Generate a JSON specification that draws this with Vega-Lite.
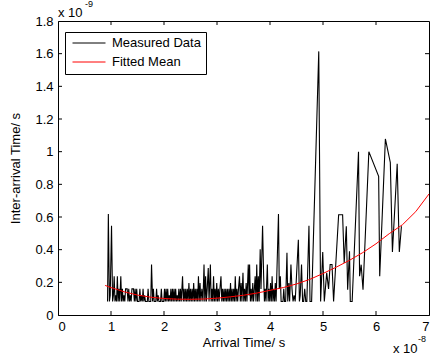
{
  "$schema": "https://vega.github.io/schema/vega-lite/v6.json",
  "width": 371,
  "height": 294,
  "autosize": "none",
  "padding": {"left": 58, "top": 21, "right": 5, "bottom": 45},
  "background": "white",
  "config": {
    "view": {"stroke": "black", "strokeWidth": 1},
    "font": "Liberation Sans",
    "axis": {
      "domainColor": "black", "tickColor": "black", "labelColor": "black", "titleColor": "black",
      "grid": false, "ticks": false, "labelFontSize": 13, "titleFontSize": 13, "titleFontWeight": "normal",
      "labelFont": "Liberation Sans", "titleFont": "Liberation Sans", "domainWidth": 1
    },
    "legend": {
      "orient": "none", "legendX": 7, "legendY": 11, "title": null,
      "strokeColor": "black", "fillColor": "white", "padding": 4.5,
      "symbolType": "stroke", "symbolSize": 1089, "symbolStrokeWidth": 1, "symbolOffset": 2.5,
      "clipHeight": 13,
      "labelFontSize": 13, "labelFont": "Liberation Sans", "labelColor": "black", "labelOffset": 6, "rowPadding": 5
    }
  },
  "datasets": {
    "xticks": [{"p":1},{"p":2},{"p":3},{"p":4},{"p":5},{"p":6}],
    "yticks": [{"p":0.2},{"p":0.4},{"p":0.6},{"p":0.8},{"p":1.0},{"p":1.2},{"p":1.4},{"p":1.6}],
    "measured": [
      {"t":0.935,"v":0.083},{"t":0.95,"v":0.618},{"t":0.97,"v":0.083},{"t":0.985,"v":0.12},{"t":1.01,"v":0.546},
      {"t":1.03,"v":0.083},{"t":1.045,"v":0.12},{"t":1.06,"v":0.237},{"t":1.075,"v":0.083},{"t":1.09,"v":0.12},
      {"t":1.105,"v":0.083},{"t":1.12,"v":0.237},{"t":1.135,"v":0.083},{"t":1.15,"v":0.16},{"t":1.165,"v":0.083},
      {"t":1.185,"v":0.237},{"t":1.2,"v":0.083},{"t":1.215,"v":0.16},{"t":1.23,"v":0.083},{"t":1.245,"v":0.12},
      {"t":1.26,"v":0.083},{"t":1.275,"v":0.16},{"t":1.305,"v":0.16},{"t":1.32,"v":0.083},{"t":1.335,"v":0.16},
      {"t":1.35,"v":0.083},{"t":1.365,"v":0.12},{"t":1.38,"v":0.083},{"t":1.395,"v":0.16},{"t":1.425,"v":0.16},
      {"t":1.44,"v":0.083},{"t":1.455,"v":0.16},{"t":1.47,"v":0.083},{"t":1.485,"v":0.16},{"t":1.5,"v":0.083},
      {"t":1.53,"v":0.083},{"t":1.545,"v":0.16},{"t":1.56,"v":0.083},{"t":1.575,"v":0.12},{"t":1.59,"v":0.083},
      {"t":1.605,"v":0.16},{"t":1.62,"v":0.083},{"t":1.635,"v":0.12},{"t":1.65,"v":0.083},{"t":1.685,"v":0.083},
      {"t":1.7,"v":0.16},{"t":1.715,"v":0.083},{"t":1.75,"v":0.083},{"t":1.765,"v":0.309},{"t":1.785,"v":0.083},
      {"t":1.8,"v":0.16},{"t":1.815,"v":0.083},{"t":1.845,"v":0.083},{"t":1.86,"v":0.16},{"t":1.875,"v":0.083},
      {"t":1.89,"v":0.12},{"t":1.905,"v":0.083},{"t":1.935,"v":0.083},{"t":1.95,"v":0.16},{"t":1.965,"v":0.083},
      {"t":1.995,"v":0.083},{"t":2.01,"v":0.16},{"t":2.025,"v":0.083},{"t":2.04,"v":0.16},{"t":2.055,"v":0.083},
      {"t":2.07,"v":0.16},{"t":2.085,"v":0.083},{"t":2.1,"v":0.12},{"t":2.115,"v":0.083},{"t":2.13,"v":0.16},
      {"t":2.145,"v":0.083},{"t":2.16,"v":0.16},{"t":2.175,"v":0.083},{"t":2.19,"v":0.16},{"t":2.205,"v":0.083},
      {"t":2.22,"v":0.16},{"t":2.235,"v":0.083},{"t":2.25,"v":0.12},{"t":2.265,"v":0.083},{"t":2.28,"v":0.16},
      {"t":2.295,"v":0.083},{"t":2.31,"v":0.16},{"t":2.325,"v":0.083},{"t":2.35,"v":0.237},{"t":2.365,"v":0.083},
      {"t":2.38,"v":0.16},{"t":2.395,"v":0.083},{"t":2.41,"v":0.16},{"t":2.425,"v":0.083},{"t":2.44,"v":0.16},
      {"t":2.455,"v":0.083},{"t":2.47,"v":0.196},{"t":2.485,"v":0.083},{"t":2.5,"v":0.16},{"t":2.515,"v":0.083},
      {"t":2.53,"v":0.16},{"t":2.545,"v":0.083},{"t":2.56,"v":0.196},{"t":2.575,"v":0.083},{"t":2.59,"v":0.16},
      {"t":2.605,"v":0.083},{"t":2.62,"v":0.16},{"t":2.635,"v":0.083},{"t":2.65,"v":0.237},{"t":2.665,"v":0.083},
      {"t":2.68,"v":0.196},{"t":2.695,"v":0.083},{"t":2.715,"v":0.16},{"t":2.735,"v":0.083},{"t":2.755,"v":0.309},
      {"t":2.77,"v":0.083},{"t":2.785,"v":0.237},{"t":2.8,"v":0.083},{"t":2.815,"v":0.16},{"t":2.835,"v":0.288},
      {"t":2.85,"v":0.083},{"t":2.875,"v":0.309},{"t":2.89,"v":0.083},{"t":2.905,"v":0.16},{"t":2.92,"v":0.083},
      {"t":2.935,"v":0.237},{"t":2.95,"v":0.083},{"t":2.965,"v":0.16},{"t":2.98,"v":0.083},{"t":2.995,"v":0.196},
      {"t":3.01,"v":0.083},{"t":3.025,"v":0.16},{"t":3.04,"v":0.083},{"t":3.055,"v":0.16},{"t":3.075,"v":0.237},
      {"t":3.09,"v":0.083},{"t":3.105,"v":0.16},{"t":3.12,"v":0.083},{"t":3.135,"v":0.16},{"t":3.15,"v":0.083},
      {"t":3.165,"v":0.16},{"t":3.18,"v":0.083},{"t":3.195,"v":0.16},{"t":3.21,"v":0.083},{"t":3.225,"v":0.16},
      {"t":3.24,"v":0.083},{"t":3.255,"v":0.196},{"t":3.27,"v":0.083},{"t":3.285,"v":0.16},{"t":3.3,"v":0.083},
      {"t":3.315,"v":0.16},{"t":3.33,"v":0.083},{"t":3.345,"v":0.237},{"t":3.36,"v":0.083},{"t":3.375,"v":0.16},
      {"t":3.39,"v":0.083},{"t":3.405,"v":0.16},{"t":3.425,"v":0.237},{"t":3.44,"v":0.083},{"t":3.455,"v":0.196},
      {"t":3.47,"v":0.083},{"t":3.49,"v":0.258},{"t":3.505,"v":0.083},{"t":3.52,"v":0.16},{"t":3.535,"v":0.083},
      {"t":3.55,"v":0.196},{"t":3.565,"v":0.083},{"t":3.59,"v":0.309},{"t":3.605,"v":0.12},{"t":3.615,"v":0.309},
      {"t":3.63,"v":0.083},{"t":3.645,"v":0.16},{"t":3.66,"v":0.083},{"t":3.675,"v":0.196},{"t":3.69,"v":0.083},
      {"t":3.72,"v":0.237},{"t":3.735,"v":0.083},{"t":3.75,"v":0.309},{"t":3.765,"v":0.083},{"t":3.78,"v":0.237},
      {"t":3.795,"v":0.083},{"t":3.815,"v":0.402},{"t":3.83,"v":0.16},{"t":3.86,"v":0.546},{"t":3.88,"v":0.237},
      {"t":3.895,"v":0.083},{"t":3.91,"v":0.16},{"t":3.925,"v":0.083},{"t":3.95,"v":0.309},{"t":3.965,"v":0.083},
      {"t":3.98,"v":0.16},{"t":3.995,"v":0.083},{"t":4.01,"v":0.196},{"t":4.025,"v":0.083},{"t":4.04,"v":0.237},
      {"t":4.055,"v":0.083},{"t":4.07,"v":0.16},{"t":4.085,"v":0.083},{"t":4.1,"v":0.196},{"t":4.115,"v":0.083},
      {"t":4.16,"v":0.618},{"t":4.175,"v":0.16},{"t":4.195,"v":0.237},{"t":4.21,"v":0.083},{"t":4.245,"v":0.083},
      {"t":4.26,"v":0.16},{"t":4.275,"v":0.083},{"t":4.295,"v":0.083},{"t":4.32,"v":0.381},{"t":4.335,"v":0.083},
      {"t":4.355,"v":0.196},{"t":4.37,"v":0.083},{"t":4.395,"v":0.309},{"t":4.415,"v":0.16},{"t":4.435,"v":0.083},
      {"t":4.455,"v":0.12},{"t":4.475,"v":0.083},{"t":4.535,"v":0.461},{"t":4.555,"v":0.083},{"t":4.57,"v":0.12},
      {"t":4.595,"v":0.309},{"t":4.615,"v":0.083},{"t":4.635,"v":0.083},{"t":4.655,"v":0.16},{"t":4.675,"v":0.083},
      {"t":4.695,"v":0.083},{"t":4.735,"v":0.546},{"t":4.755,"v":0.083},{"t":4.785,"v":0.083},{"t":4.92,"v":1.614},
      {"t":4.955,"v":0.083},{"t":4.995,"v":0.385},{"t":5.025,"v":0.083},{"t":5.07,"v":0.258},{"t":5.105,"v":0.16},
      {"t":5.135,"v":0.309},{"t":5.17,"v":0.309},{"t":5.2,"v":0.083},{"t":5.295,"v":0.614},{"t":5.37,"v":0.614},
      {"t":5.4,"v":0.318},{"t":5.44,"v":0.543},{"t":5.465,"v":0.155},{"t":5.5,"v":0.39},{"t":5.515,"v":0.083},
      {"t":5.55,"v":0.083},{"t":5.67,"v":1.0},{"t":5.69,"v":0.237},{"t":5.72,"v":0.308},{"t":5.755,"v":0.155},
      {"t":5.865,"v":1.0},{"t":6.05,"v":0.849},{"t":6.07,"v":0.237},{"t":6.177,"v":1.078},{"t":6.27,"v":0.934},
      {"t":6.31,"v":0.386},{"t":6.4,"v":0.926},{"t":6.44,"v":0.386},{"t":6.48,"v":0.543}
    ],
    "fitted": [
      {"t":0.89,"v":0.181},{"t":1.0,"v":0.168},{"t":1.25,"v":0.142},{"t":1.5,"v":0.122},{"t":1.75,"v":0.109},
      {"t":2.0,"v":0.101},{"t":2.25,"v":0.097},{"t":2.5,"v":0.096},{"t":2.75,"v":0.098},{"t":3.0,"v":0.103},
      {"t":3.25,"v":0.111},{"t":3.5,"v":0.121},{"t":3.75,"v":0.134},{"t":4.0,"v":0.151},{"t":4.25,"v":0.168},
      {"t":4.5,"v":0.19},{"t":4.75,"v":0.218},{"t":5.0,"v":0.254},{"t":5.25,"v":0.293},{"t":5.5,"v":0.335},
      {"t":5.75,"v":0.382},{"t":6.0,"v":0.436},{"t":6.25,"v":0.498},{"t":6.5,"v":0.553},{"t":6.75,"v":0.633},
      {"t":7.0,"v":0.741}
    ]
  },
  "layer": [
    {
      "data": {"name": "measured"},
      "mark": {"type": "line", "strokeWidth": 1.1},
      "encoding": {
        "x": {"field": "t", "type": "quantitative",
          "scale": {"domain": [0, 7], "nice": false, "zero": false},
          "axis": {"title": "Arrival Time/ s", "values": [0,1,2,3,4,5,6,7], "labelPadding": 5, "titlePadding": 3}},
        "y": {"field": "v", "type": "quantitative",
          "scale": {"domain": [0, 1.8], "nice": false},
          "axis": {"title": "Inter-arrival Time/ s", "values": [0,0.2,0.4,0.6,0.8,1,1.2,1.4,1.6,1.8], "format": "~g", "labelPadding": 5, "titlePadding": 12}},
        "color": {"datum": "Measured Data", "type": "nominal",
          "scale": {"domain": ["Measured Data", "Fitted Mean"], "range": ["#000000", "#ff0000"]}}
      }
    },
    {
      "data": {"name": "fitted"},
      "mark": {"type": "line", "strokeWidth": 1},
      "encoding": {
        "x": {"field": "t", "type": "quantitative", "axis": null},
        "y": {"field": "v", "type": "quantitative", "axis": null},
        "color": {"datum": "Fitted Mean", "type": "nominal"}
      }
    },
    {
      "data": {"name": "xticks"},
      "mark": {"type": "rule", "color": "black", "strokeWidth": 1, "y2Offset": -4},
      "encoding": {"x": {"field": "p", "type": "quantitative", "axis": null}, "y": {"datum": 0, "type": "quantitative", "axis": null}, "y2": {"datum": 0}}
    },
    {
      "data": {"name": "xticks"},
      "mark": {"type": "rule", "color": "black", "strokeWidth": 1, "y2Offset": 4},
      "encoding": {"x": {"field": "p", "type": "quantitative", "axis": null}, "y": {"datum": 1.8, "type": "quantitative", "axis": null}, "y2": {"datum": 1.8}}
    },
    {
      "data": {"name": "yticks"},
      "mark": {"type": "rule", "color": "black", "strokeWidth": 1, "x2Offset": 4},
      "encoding": {"y": {"field": "p", "type": "quantitative", "axis": null}, "x": {"datum": 0, "type": "quantitative", "axis": null}, "x2": {"datum": 0}}
    },
    {
      "data": {"name": "yticks"},
      "mark": {"type": "rule", "color": "black", "strokeWidth": 1, "x2Offset": -4},
      "encoding": {"y": {"field": "p", "type": "quantitative", "axis": null}, "x": {"datum": 7, "type": "quantitative", "axis": null}, "x2": {"datum": 7}}
    },
    {
      "data": {"values": [{}]},
      "mark": {"type": "text", "align": "left", "baseline": "middle", "fontSize": 13, "font": "Liberation Sans", "color": "black", "dx": 0, "dy": -8},
      "encoding": {"x": {"datum": 0, "type": "quantitative", "axis": null}, "y": {"datum": 1.8, "type": "quantitative", "axis": null}, "text": {"value": "x 10"}}
    },
    {
      "data": {"values": [{}]},
      "mark": {"type": "text", "align": "left", "baseline": "middle", "fontSize": 9, "font": "Liberation Sans", "color": "black", "dx": 27, "dy": -17},
      "encoding": {"x": {"datum": 0, "type": "quantitative", "axis": null}, "y": {"datum": 1.8, "type": "quantitative", "axis": null}, "text": {"value": "-9"}}
    },
    {
      "data": {"values": [{}]},
      "mark": {"type": "text", "align": "left", "baseline": "middle", "fontSize": 13, "font": "Liberation Sans", "color": "black", "dx": -36, "dy": 34},
      "encoding": {"x": {"datum": 7, "type": "quantitative", "axis": null}, "y": {"datum": 0, "type": "quantitative", "axis": null}, "text": {"value": "x 10"}}
    },
    {
      "data": {"values": [{}]},
      "mark": {"type": "text", "align": "left", "baseline": "middle", "fontSize": 9, "font": "Liberation Sans", "color": "black", "dx": -11, "dy": 24},
      "encoding": {"x": {"datum": 7, "type": "quantitative", "axis": null}, "y": {"datum": 0, "type": "quantitative", "axis": null}, "text": {"value": "-8"}}
    }
  ],
  "resolve": {"axis": {"x": "independent", "y": "independent"}}
}
